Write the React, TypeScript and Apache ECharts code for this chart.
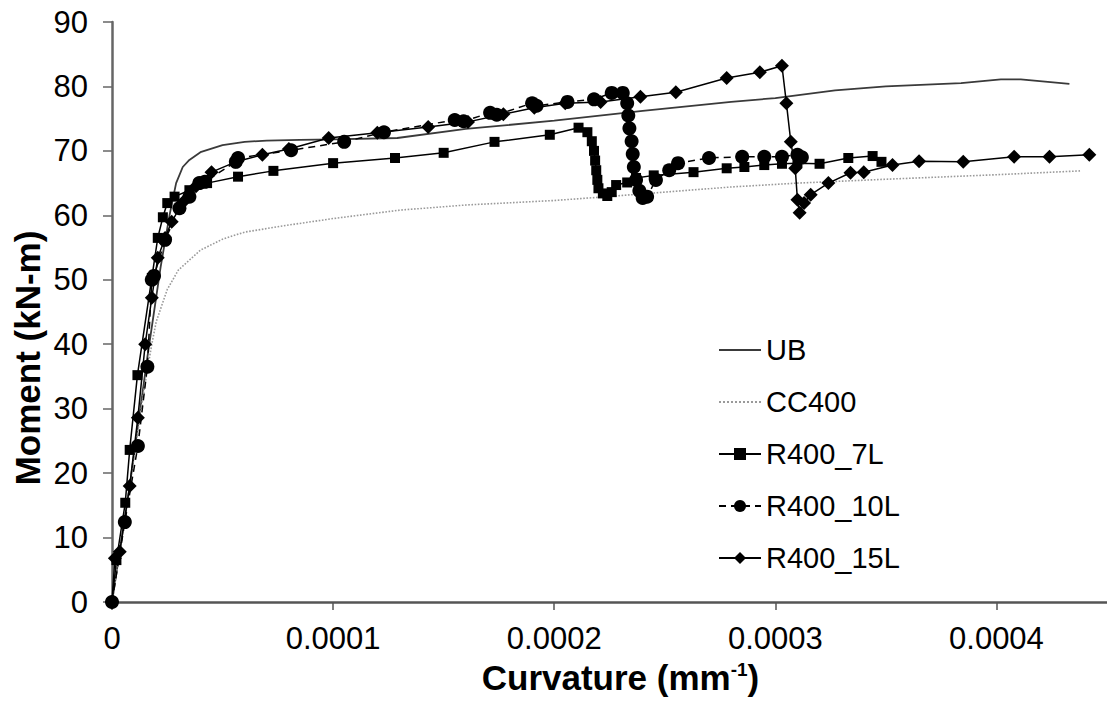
import React, { useEffect, useRef } from "react";
import * as echarts from "echarts";

// Curvature values are stored in units of 1e-5 mm^-1, moments in kN-m
const CURV_UNIT = 1e-5;

const ubPoints: [number, number][] = [
  [0, 0], [0.8, 18], [1.6, 38], [2.2, 52], [2.6, 60], [2.9, 65], [3.2, 67.5], [3.5, 68.6],
  [4.0, 69.8], [5.0, 70.9], [6.0, 71.4], [7.0, 71.6], [8.5, 71.7], [10, 71.8], [12.9, 72.0],
  [16, 73.4], [20, 74.7], [24, 76.2], [28, 77.6], [30, 78.2], [32.7, 79.4], [35, 80.0],
  [38.4, 80.5], [40.2, 81.1], [41.1, 81.1], [43.3, 80.4],
];

const cc400Points: [number, number][] = [
  [0, 0], [0.8, 18], [1.5, 34], [1.8, 40], [2.0, 43.5], [2.5, 48.5], [3.0, 51.5], [4.0, 54.6],
  [5.0, 56.3], [6.0, 57.4], [8.0, 58.5], [10, 59.5], [13, 60.8], [16, 61.6], [20, 62.3],
  [22, 62.8], [25, 63.6], [28, 64.4], [31, 65.0], [35, 65.6], [40, 66.3], [43.8, 66.9],
];

const r7Points: [number, number][] = [
  [0, 0], [0.2, 6.5], [0.6, 15.4], [0.8, 23.6], [1.15, 35.2], [1.8, 50.3], [2.07, 56.5],
  [2.3, 59.7], [2.5, 61.9], [2.83, 62.9], [3.5, 63.9], [4.3, 65.0], [5.7, 66.0], [7.3, 66.9],
  [10, 68.1], [12.8, 68.9], [15, 69.7], [17.3, 71.4], [19.8, 72.5], [21.1, 73.6], [21.5, 72.9],
  [21.7, 71.5], [21.8, 70.0], [21.85, 68.5], [21.9, 67.0], [21.95, 65.5], [22.0, 64.2],
  [22.2, 63.4], [22.4, 63.0], [22.6, 63.6], [22.8, 64.7], [23.3, 65.1], [23.7, 65.8],
  [24.5, 66.2], [26.3, 66.7], [27.8, 67.3], [28.6, 67.5], [29.5, 67.8], [30.3, 68.0],
  [31.0, 68.1], [32.0, 68.0], [33.3, 68.9], [34.4, 69.2], [34.8, 68.3],
];

const r10Points: [number, number][] = [
  [0, 0], [0.58, 12.4], [1.17, 24.2], [1.6, 36.5], [1.8, 50.0], [1.9, 50.6], [2.4, 56.2],
  [3.05, 61.1], [3.5, 62.9], [3.95, 65.0], [4.2, 65.2], [5.6, 68.3], [5.7, 68.9], [8.1, 70.1],
  [10.5, 71.4], [12.3, 72.9], [15.5, 74.8], [15.9, 74.6], [17.1, 75.9], [17.4, 75.6],
  [19.0, 77.4], [19.2, 77.0], [20.6, 77.6], [21.8, 78.0], [22.6, 79.0], [23.1, 79.0],
  [23.3, 77.4], [23.35, 75.5], [23.4, 73.5], [23.5, 71.5], [23.55, 69.5], [23.6, 67.5],
  [23.7, 65.5], [23.85, 63.8], [24.0, 62.7], [24.2, 62.9], [24.6, 65.5], [25.2, 67.0],
  [25.6, 68.1], [27.0, 68.9], [28.5, 69.1], [29.5, 69.1], [30.3, 69.1], [31.0, 69.4], [31.2, 69.0],
];

const r15Points: [number, number][] = [
  [0, 0], [0.13, 6.8], [0.35, 7.8], [0.8, 18.0], [1.17, 28.6], [1.5, 40.0], [1.8, 47.2],
  [2.07, 53.4], [2.4, 56.5], [2.7, 59.0], [3.2, 62.0], [3.8, 64.5], [4.5, 66.7], [5.6, 68.3],
  [6.8, 69.4], [8.0, 70.3], [9.8, 72.0], [12.0, 72.8], [14.3, 73.7], [16.1, 74.5], [17.7, 75.7],
  [19.1, 76.7], [20.5, 77.4], [22.1, 77.6], [23.9, 78.4], [25.5, 79.1], [27.8, 81.3],
  [29.3, 82.2], [30.3, 83.2], [30.5, 77.4], [30.7, 71.4], [30.9, 67.3], [31.0, 62.4],
  [31.1, 60.4], [31.3, 61.9], [31.6, 63.2], [32.4, 65.0], [33.4, 66.6], [34.0, 66.7],
  [35.3, 67.8], [36.5, 68.4], [38.5, 68.3], [40.8, 69.1], [42.4, 69.1], [44.2, 69.4],
];

const seriesNames = ["UB", "CC400", "R400_7L", "R400_10L", "R400_15L"];
const xTickValues = [0, 0.0001, 0.0002, 0.0003, 0.0004];
const yTickValues = [0, 10, 20, 30, 40, 50, 60, 70, 80, 90];

const toData = (pts: [number, number][]) => pts.map(([c, m]) => [c * CURV_UNIT, m]);

const SANS = "'Liberation Sans', Arial, sans-serif";

export default function App() {
  const ref = useRef<HTMLDivElement>(null);

  useEffect(() => {
    const chart = echarts.init(ref.current!, null, { renderer: "svg" });
    chart.setOption({
      animation: false,
      backgroundColor: "#ffffff",
      grid: { left: 112, top: 22, width: 1002, height: 580 },
      legend: {
        data: [
          { name: seriesNames[0], itemStyle: { opacity: 0 } },
          { name: seriesNames[1], itemStyle: { opacity: 0 } },
          { name: seriesNames[2] },
          { name: seriesNames[3] },
          { name: seriesNames[4] },
        ],
        orient: "vertical",
        left: 713,
        top: 330,
        itemWidth: 42,
        itemHeight: 15,
        itemGap: 22,
        selectedMode: false,
        textStyle: { fontSize: 29, fontFamily: SANS, color: "#000", lineHeight: 30 },
      },
      xAxis: {
        type: "value",
        min: xTickValues[0],
        max: 0.00045,
        interval: 0.0001,
        splitLine: { show: false },
        axisLine: { lineStyle: { color: "#555", width: 2.5 } },
        axisTick: { show: true, length: 8, lineStyle: { color: "#555", width: 1.5 } },
        axisLabel: {
          margin: 21,
          fontSize: 31,
          fontFamily: SANS,
          color: "#000",
          showMaxLabel: false,
          formatter: (v: number) => (v === 0 ? "0" : v.toFixed(4)),
        },
        name: "Curvature (mm{sup|-1})",
        nameLocation: "middle",
        nameGap: 58,
        nameTextStyle: {
          fontSize: 35,
          fontWeight: "bold",
          fontFamily: SANS,
          color: "#000",
          padding: [0, 0, 0, 22],
          rich: {
            sup: { fontSize: 19, fontWeight: "bold", fontFamily: SANS, color: "#000", verticalAlign: "top", padding: [0, 0, 14, 0] },
          },
        },
      },
      yAxis: {
        type: "value",
        min: yTickValues[0],
        max: yTickValues[yTickValues.length - 1],
        interval: 10,
        splitLine: { show: false },
        axisLine: { show: true, lineStyle: { color: "#666", width: 2.5 } },
        axisTick: { show: true, length: 9, lineStyle: { color: "#666", width: 1.5 } },
        axisLabel: { margin: 24, fontSize: 31, fontFamily: SANS, color: "#000" },
      },
      graphic: [
        {
          type: "text",
          x: 27,
          y: 358,
          rotation: Math.PI / 2,
          style: {
            text: "Moment (kN-m)",
            fontSize: 35,
            fontWeight: "bold",
            fontFamily: SANS,
            fill: "#000",
            align: "center",
            verticalAlign: "middle",
          },
        },
      ],
      series: [
        {
          name: seriesNames[0],
          type: "line",
          data: toData(ubPoints),
          symbol: "none",
          lineStyle: { color: "#3a3a3a", width: 1.8 },
          itemStyle: { color: "#3a3a3a" },
          z: 2,
        },
        {
          name: seriesNames[1],
          type: "line",
          data: toData(cc400Points),
          symbol: "none",
          lineStyle: { color: "#9a9a9a", width: 1.6, type: "dotted" },
          itemStyle: { color: "#9a9a9a" },
          z: 2,
        },
        {
          name: seriesNames[2],
          type: "line",
          data: toData(r7Points),
          symbol: "rect",
          symbolSize: 10,
          lineStyle: { color: "#000", width: 1.5 },
          itemStyle: { color: "#000" },
          z: 3,
        },
        {
          name: seriesNames[3],
          type: "line",
          data: toData(r10Points),
          symbol: "circle",
          symbolSize: 14,
          lineStyle: { color: "#000", width: 1.5, type: [7, 5] },
          itemStyle: { color: "#000" },
          z: 3,
        },
        {
          name: seriesNames[4],
          type: "line",
          data: toData(r15Points),
          symbol: "diamond",
          symbolSize: 14,
          lineStyle: { color: "#000", width: 1.5 },
          itemStyle: { color: "#000" },
          z: 3,
        },
      ],
    });
    return () => chart.dispose();
  }, []);

  return (
    <div
      ref={ref}
      style={{ position: "absolute", left: 0, top: 0, width: 1107, height: 711, background: "#fff" }}
    />
  );
}
